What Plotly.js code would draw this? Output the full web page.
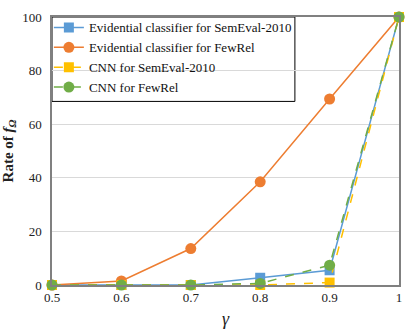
<!DOCTYPE html>
<html>
<head>
<meta charset="utf-8">
<script src="https://cdn.plot.ly/plotly-3.0.1.min.js"></script>
<style>
  html, body { margin: 0; padding: 0; background: #fff; }
  #chart { width: 415px; height: 334px; }
</style>
</head>
<body>
<div id="chart"></div>
<script>
// gamma thresholds
var gamma = [0.5, 0.6, 0.7, 0.8, 0.9, 1];

// rate of f_Omega (%)
var evidSemEval = [0, 0, 0, 2.7, 5.5, 100];
var evidFewRel = [0, 1.5, 13.6, 38.5, 69.4, 100];
var cnnSemEval = [0, 0, 0, 0, 0.9, 100];
var cnnFewRel = [0, 0, 0, 0.6, 7.4, 100];

var names = [
    'Evidential classifier for SemEval-2010',
    'Evidential classifier for FewRel',
    'CNN for SemEval-2010',
    'CNN for FewRel'
];

function series(y, name, color, symbol, dash) {
    return {
        x: gamma,
        y: y,
        name: name,
        type: 'scatter',
        mode: 'lines+markers',
        cliponaxis: false,
        line: {color: color, width: 1.5, dash: dash},
        marker: {color: color, symbol: symbol, size: symbol === 'square' ? 10 : 11}
    };
}

var data = [
    series(evidSemEval, names[0], '#5B9BD5', 'square', 'solid'),
    series(evidFewRel, names[1], '#ED7D31', 'circle', 'solid'),
    series(cnnSemEval, names[2], '#FFC000', 'square', 'dash'),
    series(cnnFewRel, names[3], '#70AD47', 'circle', 'dash')
];

var font = 'Times New Roman, Liberation Serif, serif';

var layout = {
    width: 415,
    height: 334,
    margin: {l: 52, r: 16, t: 15, b: 49},
    paper_bgcolor: '#fff',
    plot_bgcolor: '#fff',
    font: {family: font, size: 13, color: '#222'},
    showlegend: true,
    legend: {
        x: -0.009, y: 1.017, xanchor: 'left', yanchor: 'top',
        bgcolor: 'rgba(0,0,0,0)',
        borderwidth: 0,
        font: {family: font, size: 13, color: '#111'}
    },
    // legend frame
    shapes: [{
        type: 'rect', xref: 'paper', yref: 'paper',
        x0: 0, x1: 0.70, y0: 0.685, y1: 1,
        fillcolor: '#fff',
        line: {color: '#000', width: 1},
        layer: 'below'
    }],
    xaxis: {
        range: [0.5, 1],
        tick0: 0.5,
        dtick: 0.1,
        showgrid: false,
        zeroline: false,
        showline: true,
        mirror: true,
        linecolor: '#808080',
        linewidth: 1.5,
        ticks: '',
        tickfont: {family: font, size: 13, color: '#222'},
        title: {text: '<i>γ</i>', font: {family: font, size: 18, color: '#222'}, standoff: 8}
    },
    yaxis: {
        range: [0, 100],
        dtick: 20,
        showgrid: true,
        gridcolor: '#d9d9d9',
        gridwidth: 1,
        zeroline: false,
        showline: true,
        mirror: true,
        linecolor: '#808080',
        linewidth: 1.5,
        ticks: '',
        ticklabelstandoff: 6,
        tickfont: {family: font, size: 13, color: '#222'},
        title: {text: '<b>Rate of <i>f</i><sub><i>Ω</i></sub></b>', font: {family: font, size: 15, color: '#222'}, standoff: 10}
    }
};

Plotly.newPlot('chart', data, layout, {displayModeBar: false, responsive: false});
</script>
</body>
</html>
